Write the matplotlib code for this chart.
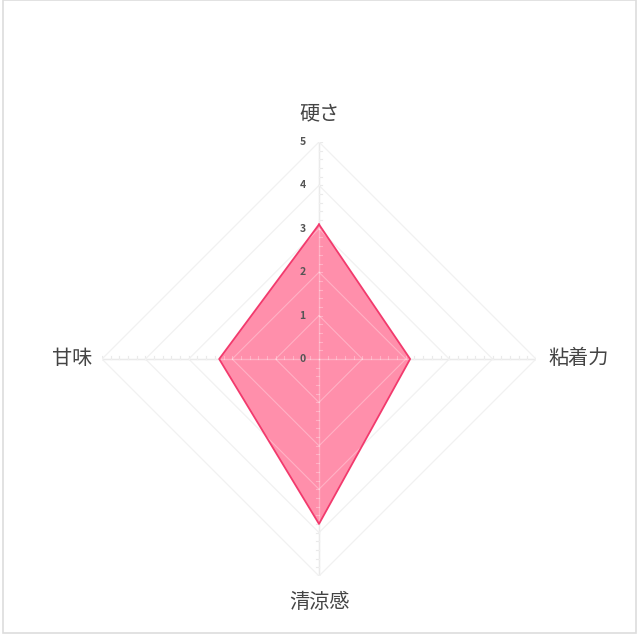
import numpy as np
import matplotlib
matplotlib.use("Agg")
import matplotlib.pyplot as plt
from matplotlib.patches import Rectangle

plt.rcParams['font.family'] = ['Noto Sans CJK JP', 'DejaVu Sans']

# data
categories = ['硬さ', '粘着力', '清涼感', '甘味']
values = [3.1, 2.1, 3.8, 2.3]
ring_levels = [1, 2, 3, 4, 5]
tick_labels = ['0', '1', '2', '3', '4', '5']

# directions clockwise from the top
angles = np.pi / 2 - np.arange(len(categories)) * 2 * np.pi / len(categories)
dx = np.cos(angles)
dy = np.sin(angles)

fig = plt.figure(figsize=(6.4, 6.4), dpi=100)
fig.patches.append(Rectangle((3 / 640, 7 / 640), 633 / 640, 633 / 640,
                             transform=fig.transFigure, fill=False,
                             edgecolor='#dddddd', linewidth=1.2))

ax = fig.add_axes([102 / 640, 64 / 640, 434 / 640, 434 / 640])
ax.set_xlim(-5, 5)
ax.set_ylim(-5, 5)
ax.set_aspect('equal')
ax.axis('off')


def draw_grid(z, alpha, ring_col, spoke_col):
    for r in ring_levels:
        xs = np.append(dx * r, dx[0] * r)
        ys = np.append(dy * r, dy[0] * r)
        ax.plot(xs, ys, color=ring_col, lw=0.8, zorder=z, alpha=alpha)
    for i in range(len(categories)):
        ax.plot([0, dx[i] * 5], [0, dy[i] * 5], color=spoke_col, lw=1.0,
                zorder=z, alpha=alpha)
        for t in np.arange(0.2, 5.01, 0.2):
            px, py = dx[i] * t, dy[i] * t
            if abs(dx[i]) < 0.5:
                side = 0.08 if dy[i] > 0 else -0.08
                ax.plot([px, px + side], [py, py], color=spoke_col, lw=0.8,
                        zorder=z, alpha=alpha)
            else:
                ax.plot([px, px], [py, py + 0.08], color=spoke_col, lw=0.8,
                        zorder=z, alpha=alpha)


draw_grid(1, 1.0, '#ececec', '#e2e2e2')

# data polygon
vx = np.array(values) * dx
vy = np.array(values) * dy
ax.fill(vx, vy, color='#ff8fab', zorder=2, lw=0)
draw_grid(3, 0.3, '#ffffff', '#ffffff')
ax.plot(np.append(vx, vx[0]), np.append(vy, vy[0]), color='#f23a6d', lw=1.3, zorder=4)

# radial tick labels
for k, lab in enumerate(tick_labels):
    ax.text(-0.38, k, lab, ha='center', va='center', fontsize=7.5,
            color='#555555', fontweight='bold', zorder=5)

# category labels
label_r = [5.65, 5.28, 5.62, 5.23]
for i, name in enumerate(categories):
    ha = 'center'
    if dx[i] > 0.5:
        ha = 'left'
    elif dx[i] < -0.5:
        ha = 'right'
    ax.text(dx[i] * label_r[i], dy[i] * label_r[i], name, ha=ha, va='center',
            fontsize=14.5, color='#444444')

fig.savefig('out.png', dpi=100)
